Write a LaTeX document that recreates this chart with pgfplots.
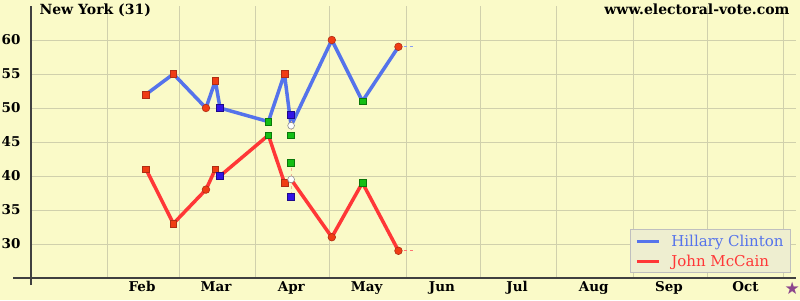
\documentclass[border=0pt]{standalone}
\usepackage{pgfplots}
\pgfplotsset{compat=1.18}
\usepackage{fontspec}
\setmainfont{DejaVu Serif}
\newfontfamily\symfont{DejaVu Sans}
\definecolor{bg}{RGB}{250,250,200}
\definecolor{gridc}{RGB}{208,208,172}
\definecolor{clinton}{RGB}{85,115,235}
\definecolor{mccain}{RGB}{255,55,55}
\definecolor{pollred}{RGB}{240,60,20}
\definecolor{pollredd}{RGB}{175,45,20}
\definecolor{pollblue}{RGB}{50,20,230}
\definecolor{pollblued}{RGB}{30,10,140}
\definecolor{pollgreen}{RGB}{20,190,20}
\definecolor{pollgreend}{RGB}{10,120,10}
\definecolor{pale}{RGB}{245,180,150}
\definecolor{starc}{RGB}{140,70,140}
\definecolor{legbg}{RGB}{238,238,208}
\begin{document}
\begin{tikzpicture}
\useasboundingbox (0,0) rectangle (800pt,300pt);
\fill[bg] (0,0) rectangle (800pt,300pt);
\begin{axis}[
  at={(31pt,22pt)}, anchor=south west, scale only axis,
  width=765pt, height=272pt,
  xmin=0, xmax=310, ymin=25, ymax=65,
  clip=false,
  axis lines*=left,
  axis line style={draw=black!75, line width=1.5pt},
  x axis line style={shorten <=-18pt},
  y axis line style={shorten <=-7pt},
  tick align=outside,
  major tick length=0pt,
  minor tick length=22pt,
  ytick={30,35,...,60},
  ymajorgrids,
  grid style={gridc, line width=0.9pt},
  minor grid style={gridc, line width=0.9pt},
  ytick style={draw=none},
  xtick={45,75,105.5,136,166.5,197,228,258.5,289.5},
  xticklabels={Feb,Mar,Apr,May,Jun,Jul,Aug,Sep,Oct},
  xtick style={draw=none},
  minor xtick={31,60,91,121,152,182,213,244,274,305},
  xminorgrids,
  minor tick style={gridc, line width=0.9pt},
  /pgf/number format/assume math mode=true,
  tick label style={font=\fontsize{13.5}{15}\selectfont\bfseries, text=black},
  yticklabel style={xshift=-7pt},
  xticklabel style={anchor=base, yshift=-13pt},
  legend style={at={(1,0)}, anchor=south east, xshift=-5pt, yshift=5pt,
    fill=legbg, draw=black!25, line width=0.8pt,
    font=\fontsize{15}{17}\selectfont, row sep=3pt, inner xsep=5pt, inner ysep=3pt},
  legend cell align=left,
  legend image code/.code={\draw[#1, line width=3pt] (0pt,0pt) -- (22pt,0pt);},
]
% main lines
\addplot[clinton, line width=3.5pt, line join=round] coordinates {
 (46.6,52) (57.7,55) (70.9,50) (74.7,54) (76.6,50) (96.2,48) (102.7,55) (105.4,47.4) (121.9,60) (134.3,51) (148.9,59)};
\addlegendentry{\hspace{9pt}\textcolor{clinton}{Hillary Clinton}}
\addplot[mccain, line width=3.5pt, line join=round] coordinates {
 (46.6,41) (57.7,33) (70.9,38) (74.7,41) (76.6,40) (96.2,46) (102.7,39) (105.4,39.5) (121.9,31) (134.3,39) (148.9,29)};
\addlegendentry{\hspace{9pt}\textcolor{mccain}{John McCain}}
% extensions
\addplot[clinton!70, dashed, line width=0.9pt, forget plot] coordinates {(148.9,59) (155,59)};
\addplot[mccain!70, dashed, line width=0.9pt, forget plot] coordinates {(148.9,29) (155,29)};
% poll spread
\addplot[pale, dashed, line width=1.2pt, forget plot] coordinates {(105.4,49) (105.4,46)};
\addplot[pale, dashed, line width=1.2pt, forget plot] coordinates {(105.4,42) (105.4,37)};
% markers
\addplot[only marks, mark=square*, mark size=3.4pt, mark options={fill=pollred, draw=pollredd, line width=0.6pt}, forget plot] coordinates {
 (46.6,52) (57.7,55) (74.7,54) (102.7,55) (46.6,41) (57.7,33) (74.7,41) (102.7,39)};
\addplot[only marks, mark=*, mark size=3.8pt, mark options={fill=pollred, draw=pollredd, line width=0.6pt}, forget plot] coordinates {
 (70.9,50) (121.9,60) (148.9,59) (70.9,38) (121.9,31) (148.9,29)};
\addplot[only marks, mark=square*, mark size=3.4pt, mark options={fill=pollblue, draw=pollblued, line width=0.6pt}, forget plot] coordinates {
 (76.6,50) (105.4,49) (76.6,40) (105.4,37)};
\addplot[only marks, mark=square*, mark size=3.4pt, mark options={fill=pollgreen, draw=pollgreend, line width=0.6pt}, forget plot] coordinates {
 (96.2,48) (105.4,46) (134.3,51) (96.2,46) (105.4,42) (134.3,39)};
\addplot[only marks, mark=*, mark size=3.4pt, mark options={fill=white, draw=black!45, line width=0.6pt}, forget plot] coordinates {
 (105.4,47.4) (105.4,39.5)};
% election day star
\addplot[starc, only marks, mark=text, text mark={\textcolor{starc}{\symfont\fontsize{17}{17}\selectfont ★}}, forget plot] coordinates {(308.5,23.4)};
\end{axis}
\node[anchor=base west, font=\fontsize{14}{16}\selectfont\bfseries] at (36pt,285pt) {New York (31)};
\node[anchor=base east, font=\fontsize{14}{16}\selectfont\bfseries] at (793pt,285pt) {www.electoral-vote.com};
\end{tikzpicture}
\end{document}
